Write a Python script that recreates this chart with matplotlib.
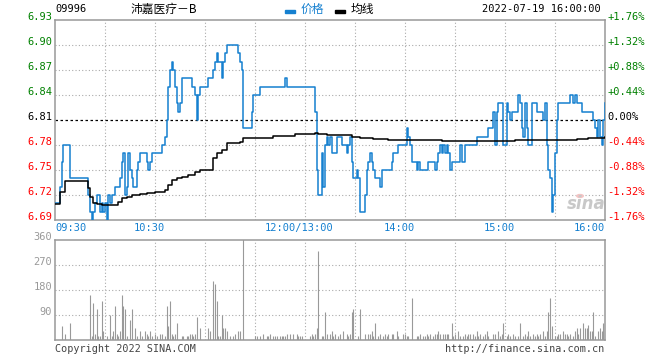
import matplotlib
matplotlib.use("Agg")
import matplotlib.pyplot as plt
import matplotlib.transforms as mtransforms
import numpy as np

# price changes: (trading minute since 09:30, lunch removed) -> price
px_min = [0, 3, 4, 5, 9, 20, 21, 22, 23, 24, 25, 27, 28, 29, 30, 31, 32, 33, 34, 36,
          39, 40, 41, 42, 43, 44, 45, 46, 47, 49, 50, 51,
          55, 56, 57, 58, 64, 66, 67, 68, 69, 70, 71, 72, 73, 74, 75, 76, 82, 84, 85, 86, 87,
          92, 95, 96, 97, 98, 100, 101, 102, 103,
          110, 111, 112, 113, 118, 119, 123, 138, 139, 156, 157, 158, 160, 161, 162, 163, 164,
          165, 166, 169, 172, 175, 176, 177, 178, 179, 181, 182, 183, 186, 187, 188, 189, 190,
          191, 192, 195, 196, 202, 203, 206, 211, 212, 213, 214, 217, 218, 219,
          224, 228, 229, 230, 231, 232, 233, 234, 235, 236, 237, 238, 243, 244, 246, 253,
          260, 263, 264, 265, 266, 269, 271, 272, 273, 274,
          278, 279, 280, 281, 282, 283, 284, 286, 289, 293, 294, 295, 296, 297, 298, 299,
          300, 301, 302, 309, 311, 312, 313, 316, 323, 324, 325, 326, 327, 328, 329, 330]
px_val = [6.71, 6.73, 6.76, 6.78, 6.74, 6.72, 6.70, 6.69, 6.70, 6.71, 6.72, 6.70, 6.71, 6.70, 6.71, 6.69, 6.72, 6.71, 6.72, 6.73,
          6.74, 6.76, 6.77, 6.72, 6.73, 6.77, 6.75, 6.74, 6.73, 6.75, 6.76, 6.77,
          6.76, 6.75, 6.76, 6.77, 6.78, 6.79, 6.81, 6.85, 6.87, 6.88, 6.87, 6.85, 6.83, 6.82, 6.83, 6.86, 6.85, 6.84, 6.81, 6.84, 6.85,
          6.86, 6.87, 6.88, 6.89, 6.88, 6.86, 6.88, 6.89, 6.90,
          6.89, 6.88, 6.87, 6.80, 6.82, 6.84, 6.85, 6.86, 6.85, 6.82, 6.75, 6.72, 6.77, 6.73, 6.78, 6.79, 6.78,
          6.79, 6.77, 6.79, 6.78, 6.77, 6.78, 6.79, 6.76, 6.74, 6.75, 6.74, 6.70, 6.72, 6.75, 6.76, 6.77, 6.76,
          6.75, 6.74, 6.73, 6.75, 6.76, 6.77, 6.78, 6.80, 6.79, 6.78, 6.76, 6.75, 6.76, 6.75,
          6.76, 6.75, 6.76, 6.77, 6.78, 6.77, 6.78, 6.77, 6.78, 6.77, 6.75, 6.76, 6.78, 6.76, 6.78, 6.79,
          6.80, 6.82, 6.78, 6.82, 6.83, 6.78, 6.83, 6.82, 6.81, 6.82,
          6.84, 6.83, 6.80, 6.79, 6.83, 6.80, 6.78, 6.83, 6.82, 6.81, 6.83, 6.78, 6.75, 6.74, 6.70, 6.72,
          6.77, 6.81, 6.83, 6.84, 6.83, 6.84, 6.83, 6.82, 6.81, 6.80, 6.79, 6.81, 6.79, 6.78, 6.81, 6.83]

# average price line
avg_min = [0, 3, 6, 20, 21, 23, 25, 28, 38, 40, 43, 46, 51, 55, 60, 66, 68, 70, 73, 76, 80, 84, 87,
           95, 97, 100, 103, 111, 113, 125, 131, 144, 156, 158, 163, 178, 183, 186, 191, 200,
           232, 276, 313, 320, 327, 330]
avg_val = [6.709, 6.724, 6.737, 6.728, 6.718, 6.710, 6.709, 6.708, 6.712, 6.716, 6.718, 6.720, 6.721,
           6.722, 6.724, 6.726, 6.732, 6.738, 6.741, 6.742, 6.744, 6.748, 6.750,
           6.764, 6.770, 6.774, 6.782, 6.784, 6.789, 6.789, 6.791, 6.793, 6.794, 6.793, 6.792,
           6.790, 6.789, 6.788, 6.787, 6.786, 6.7844, 6.7856, 6.787, 6.788, 6.789, 6.790]

# volume per minute (thousand shares)
vol_min = [4, 6, 9, 21, 22, 23, 24, 25, 26, 27, 28, 29, 31, 33, 34, 35, 36, 37, 38, 39, 40, 41, 42, 43,
           45, 46, 48, 49, 51, 52, 54, 55, 56, 57, 58, 60, 61, 63, 64, 66, 67, 68, 69, 70, 71, 72, 73,
           76, 77, 79, 80, 81, 82, 83, 84, 85, 87, 92, 93, 95, 96, 97, 98, 99, 100, 101, 102, 103,
           105, 107, 108, 110, 111, 113, 120, 121, 123, 125, 127, 128, 129, 131, 132, 133, 135, 136,
           137, 138, 139, 141, 143, 145, 146, 147, 148, 153, 154, 155, 156, 157, 158, 160, 161, 162,
           163, 165, 166, 167, 168, 170, 171, 173, 175, 176, 177, 178, 179, 182, 183, 186, 188, 189,
           190, 191, 192, 194, 195, 197, 198, 199, 200, 202, 203, 205, 206, 209, 210, 211, 212, 214,
           217, 218, 219, 221, 222, 223, 224, 225, 227, 228, 229, 230, 231, 233, 234, 235, 236, 238,
           239, 240, 242, 243, 245, 246, 247, 248, 249, 251, 252, 253, 254, 255, 257, 258, 259, 260,
           263, 264, 266, 267, 268, 269, 271, 272, 273, 275, 276, 278, 279, 281, 282, 283, 284, 285,
           287, 288, 289, 290, 291, 293, 294, 295, 296, 297, 298, 300, 301, 302, 303, 305, 306, 307,
           308, 309, 311, 312, 313, 314, 315, 317, 318, 319, 320, 321, 322, 323, 324, 326, 327, 328,
           329, 330]
vol_qty = [52, 23, 62, 163, 13, 134, 23, 113, 13, 13, 142, 34, 13, 91, 13, 34, 124, 23, 13, 34, 163, 124, 113, 13,
           73, 113, 44, 13, 34, 13, 34, 23, 13, 34, 13, 23, 13, 23, 23, 13, 124, 52, 142, 23, 13, 23, 62,
           13, 13, 13, 13, 23, 23, 13, 23, 84, 44, 44, 34, 214, 203, 142, 13, 13, 91, 44, 44, 34,
           13, 13, 23, 34, 34, 400, 13, 13, 13, 23, 13, 13, 23, 13, 13, 13, 13, 13,
           13, 13, 23, 23, 23, 23, 13, 13, 13, 13, 23, 13, 23, 44, 322, 13, 13, 102,
           23, 23, 34, 13, 23, 13, 23, 34, 23, 13, 23, 102, 113, 13, 113, 23, 23, 23,
           34, 13, 62, 13, 23, 13, 23, 13, 23, 23, 23, 34, 13, 23, 23, 13, 13, 152,
           13, 13, 23, 13, 13, 23, 13, 23, 13, 23, 23, 34, 23, 23, 23, 23, 23, 62,
           13, 23, 34, 13, 13, 23, 13, 23, 23, 23, 13, 34, 13, 23, 13, 23, 34, 13,
           23, 23, 34, 13, 23, 62, 13, 23, 13, 23, 13, 13, 62, 13, 23, 13, 34, 13,
           23, 13, 23, 13, 23, 34, 13, 34, 102, 152, 52, 13, 13, 23, 23, 34, 23, 23,
           13, 23, 13, 34, 44, 23, 44, 62, 44, 44, 54, 34, 34, 102, 13, 34, 44, 34,
           62, 62]

prev_close = 6.81
price_ticks = [6.93, 6.90, 6.87, 6.84, 6.81, 6.78, 6.75, 6.72, 6.69]
vol_ticks = [360, 270, 180, 90]
time_ticks = [0, 60, 150, 210, 270, 330]
time_labels = ["09:30", "10:30", "12:00/13:00", "14:00", "15:00", "16:00"]

W, H = 660, 360
fig = plt.figure(figsize=(W / 100, H / 100), dpi=100)
fig.patch.set_facecolor("white")
mono = "DejaVu Sans Mono"
cjk = ["Noto Sans CJK SC", "DejaVu Sans"]
grey = "#999999"
blue = "#1580d0"
green = "#008000"
red = "#ff0000"


def box(l, t, r, b):
    return [l / W, 1 - b / H, (r - l) / W, (b - t) / H]


ax = fig.add_axes(box(55, 20, 605, 220))
axv = fig.add_axes(box(55, 240, 605, 340))

for a in (ax, axv):
    a.set_xlim(0, 330)
    a.set_xticks([])
    a.set_yticks([])
    for s in a.spines.values():
        s.set_color(grey)
        s.set_linewidth(1.1)
    for m in range(30, 330, 30):
        a.axvline(m, color="#aaaaaa", lw=0.8, ls=(0, (1, 2)), zorder=1)

ax.set_ylim(6.69, 6.93)
for p in price_ticks[1:-1]:
    if abs(p - prev_close) < 1e-9:
        ax.axhline(p, color="black", lw=0.9, ls=(0, (2, 2)), zorder=1)
    else:
        ax.axhline(p, color="#aaaaaa", lw=0.8, ls=(0, (1, 2)), zorder=1)

t = np.array(px_min)
v = np.array(px_val)
ax.step(t, v, where="post", color=blue, lw=1.1, zorder=3)
ax.step(np.array(avg_min), np.array(avg_val), where="post", color="black", lw=1.1, zorder=4)

axv.set_ylim(0, 360)
for q in vol_ticks[1:]:
    axv.axhline(q, color="#aaaaaa", lw=0.8, ls=(0, (1, 2)), zorder=1)
axv.vlines(vol_min, 0, vol_qty, color=grey, lw=0.8, zorder=3)

# y labels
lt = mtransforms.blended_transform_factory(ax.transAxes, ax.transData)
for p in price_ticks:
    c = green if p > prev_close + 1e-9 else (red if p < prev_close - 1e-9 else "black")
    pct = (p - prev_close) / prev_close * 100
    ax.text(0, p, f"{p:.2f}", transform=mtransforms.offset_copy(lt, fig, x=-3, y=0, units="dots"),
            ha="right", va="baseline", fontsize=7.5, family=mono, color=c)
    ax.text(1, p, f"{pct:+.2f}%" if abs(pct) > 1e-9 else "0.00%",
            transform=mtransforms.offset_copy(lt, fig, x=2, y=0, units="dots"),
            ha="left", va="baseline", fontsize=7.5, family=mono, color=c)

vt = mtransforms.blended_transform_factory(axv.transAxes, axv.transData)
for q in vol_ticks:
    axv.text(0, q, str(q), transform=mtransforms.offset_copy(vt, fig, x=-3, y=0, units="dots"),
             ha="right", va="baseline", fontsize=7.5, family=mono, color=grey)

# x labels
xt = mtransforms.blended_transform_factory(ax.transData, ax.transAxes)
for m, lab in zip(time_ticks, time_labels):
    if m == 0:
        ha, dx = "left", 0
    elif m == 330:
        ha, dx = "right", 0
    else:
        ha, dx = "center", -6
    ax.text(m, 0, lab, transform=mtransforms.offset_copy(xt, fig, x=dx, y=-7.5, units="dots"),
            ha=ha, va="center", fontsize=7.5, family=mono, color=blue)

# header
def ftext(x, y, s, **kw):
    fig.text(x / W, 1 - y / H, s, **kw)

ftext(55, 12, "09996", ha="left", va="baseline", fontsize=7.5, family=mono, color="black")
ftext(130, 13, "沛嘉医疗－B", ha="left", va="baseline", fontsize=8.5, family=cjk, color="black")
fig.patches.append(plt.Rectangle((285 / W, 1 - 13 / H), 10 / W, 3 / H, transform=fig.transFigure,
                                 color=blue, figure=fig))
ftext(301, 13, "价格", ha="left", va="baseline", fontsize=8.5, family=cjk, color=blue)
fig.patches.append(plt.Rectangle((335 / W, 1 - 13 / H), 10 / W, 3 / H, transform=fig.transFigure,
                                 color="black", figure=fig))
ftext(351, 13, "均线", ha="left", va="baseline", fontsize=8.5, family=cjk, color="black")
ftext(601, 12, "2022-07-19 16:00:00", ha="right", va="baseline", fontsize=7.5, family=mono, color="black")

# footer
ftext(55, 352, "Copyright 2022 SINA.COM", ha="left", va="baseline", fontsize=7.3, family=mono, color="#444444")
ftext(604, 352, "http://finance.sina.com.cn", ha="right", va="baseline", fontsize=7.3, family=mono,
      color="#444444")

# watermark
fig.patches.append(plt.Circle((580 / W, 1 - 196 / H), 4 / W, transform=fig.transFigure,
                              facecolor="#f4c4c4", edgecolor="none", figure=fig))
ftext(586, 209, "sina", ha="center", va="baseline", fontsize=12, family="DejaVu Sans",
      style="italic", weight="bold", color="#c8c8c8")

fig.savefig("out.png", dpi=100)
